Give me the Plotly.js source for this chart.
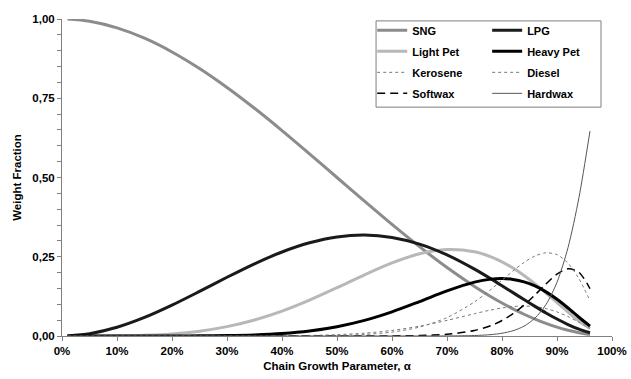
<!DOCTYPE html>
<html>
<head>
<meta charset="utf-8">
<script src="https://cdn.plot.ly/plotly-3.0.1.min.js"></script>
<style>html,body{margin:0;padding:0;background:#fff;}#chart{width:631px;height:379px;}</style>
</head>
<body>
<div id="chart"></div>
<script>
// Chain growth parameter (alpha)
const alpha = [0.01,0.05,0.10,0.15,0.20,0.25,0.30,0.35,0.40,0.45,0.50,0.55,0.60,0.65,0.70,0.75,0.78,0.80,0.82,0.84,0.86,0.88,0.90,0.92,0.94,0.96];

const sng      = [0.9997,0.9928,0.972,0.9393,0.896,0.8438,0.784,0.7183,0.648,0.5748,0.5,0.4253,0.352,0.2818,0.216,0.1563,0.1239,0.104,0.0855,0.0686,0.0533,0.0397,0.028,0.0182,0.0104,0.0047];
const lpg      = [0.0003,0.0072,0.0275,0.0585,0.0973,0.1406,0.1852,0.2277,0.265,0.294,0.3125,0.3185,0.311,0.2898,0.2558,0.2109,0.1802,0.1587,0.1368,0.1149,0.0934,0.0727,0.0535,0.0362,0.0215,0.0101];
const lightPet = [0,0.00003,0.0005,0.0022,0.0066,0.0152,0.0295,0.0505,0.0785,0.1131,0.1523,0.193,0.2306,0.2593,0.2729,0.2657,0.2497,0.234,0.2143,0.1909,0.1644,0.1356,0.1054,0.0754,0.0473,0.0234];
const heavyPet = [0,0,0,0.00001,0.0001,0.0004,0.0012,0.0034,0.0078,0.0159,0.0293,0.0493,0.0761,0.1085,0.1423,0.17,0.1794,0.1812,0.1785,0.1708,0.1578,0.1393,0.1157,0.0883,0.0591,0.0311];
const kerosene = [0,0,0,0,0,0,0.00004,0.0002,0.0006,0.0017,0.0042,0.009,0.0176,0.031,0.0493,0.0704,0.0821,0.0885,0.0928,0.0944,0.0925,0.0865,0.076,0.0613,0.0432,0.024];
const diesel   = [0,0,0,0,0,0,0,0.00003,0.0001,0.0005,0.0017,0.0048,0.0123,0.0281,0.0581,0.1077,0.1471,0.176,0.2051,0.2319,0.2525,0.2625,0.2566,0.23,0.1803,0.1112];
const softwax  = [0,0,0,0,0,0,0,0,0,0,0.00001,0.0001,0.0003,0.0014,0.0054,0.0175,0.0331,0.049,0.0703,0.0974,0.1297,0.1643,0.1952,0.2119,0.2007,0.1491];
const hardwax  = [0,0,0,0,0,0,0,0,0,0,0,0,0,0.00003,0.0002,0.0015,0.0044,0.0087,0.0166,0.031,0.0564,0.0994,0.1696,0.2787,0.4375,0.6465];

const xTickVals = [0,0.1,0.2,0.3,0.4,0.5,0.6,0.7,0.8,0.9,1.0];
const yTickVals = [0,0.25,0.5,0.75,1.0];

function tr(name, y, color, width, dash, legend, group) {
  return {
    x: alpha, y: y, name: name, type: 'scatter', mode: 'lines',
    line: {color: color, width: width, dash: dash, shape: 'spline', smoothing: 0.8},
    legend: legend, legendgroup: group, hoverinfo: 'skip'
  };
}

const data = [
  tr('SNG', sng, '#8c8c8c', 3, 'solid', 'legend', 'a'),
  tr('Light Pet', lightPet, '#b8b8b8', 3, 'solid', 'legend', 'b'),
  tr('Kerosene', kerosene, '#7a7a7a', 1, 'dot', 'legend', 'c'),
  tr('Softwax', softwax, '#000000', 1.5, '8px,5px', 'legend', 'd'),
  tr('LPG', lpg, '#1a1a1a', 3, 'solid', 'legend2', 'e'),
  tr('Heavy Pet', heavyPet, '#000000', 3, 'solid', 'legend2', 'f'),
  tr('Diesel', diesel, '#7a7a7a', 1, 'dot', 'legend2', 'g'),
  tr('Hardwax', hardwax, '#555555', 1, 'solid', 'legend2', 'h')
];

const FAM = 'Liberation Sans, Arial, sans-serif';
const legendCommon = {
  font: {family: FAM, size: 11, color: '#000', weight: 'bold'},
  bgcolor: 'rgba(0,0,0,0)', borderwidth: 0, traceorder: 'grouped', tracegroupgap: 2,
  xanchor: 'left', yanchor: 'top', itemwidth: 30
};

const layout = {
  width: 631, height: 379,
  margin: {l: 62, r: 19, t: 19, b: 43},
  paper_bgcolor: '#fff', plot_bgcolor: '#fff',
  separators: ',.',
  font: {family: FAM, size: 11, color: '#000'},
  showlegend: true,
  legend: Object.assign({}, legendCommon, {x: 0.564, y: 1.01, xref: 'paper', yref: 'paper'}),
  legend2: Object.assign({}, legendCommon, {x: 0.773, y: 1.01, xref: 'paper', yref: 'paper'}),
  shapes: [{type: 'rect', xref: 'paper', yref: 'paper', x0: 0.571, x1: 0.98, y0: 0.722, y1: 0.994,
            line: {color: '#7f7f7f', width: 1}, fillcolor: 'rgba(0,0,0,0)'}],
  xaxis: {
    range: [0, 1], tickvals: xTickVals, tickformat: '.0%',
    showgrid: false, zeroline: false, showline: true, linecolor: '#808080', linewidth: 1,
    ticks: 'outside', ticklen: 4, tickcolor: '#808080',
    tickfont: {family: FAM, size: 11.5, weight: 'bold'},
    title: {text: 'Chain Growth Parameter, α', standoff: 6,
            font: {family: FAM, size: 11.5, weight: 'bold'}}
  },
  yaxis: {
    range: [0, 1], tickvals: yTickVals, tickformat: '.2f',
    showgrid: false, zeroline: false, showline: true, linecolor: '#808080', linewidth: 1,
    ticks: 'outside', ticklen: 4, tickcolor: '#808080',
    minor: {dtick: 0.05, ticks: 'outside', ticklen: 4, tickcolor: '#808080', showgrid: false},
    tickfont: {family: FAM, size: 11.5, weight: 'bold'},
    title: {text: 'Weight Fraction', standoff: 8,
            font: {family: FAM, size: 11.5, weight: 'bold'}}
  }
};

Plotly.newPlot('chart', data, layout, {displayModeBar: false, staticPlot: true});
</script>
</body>
</html>
